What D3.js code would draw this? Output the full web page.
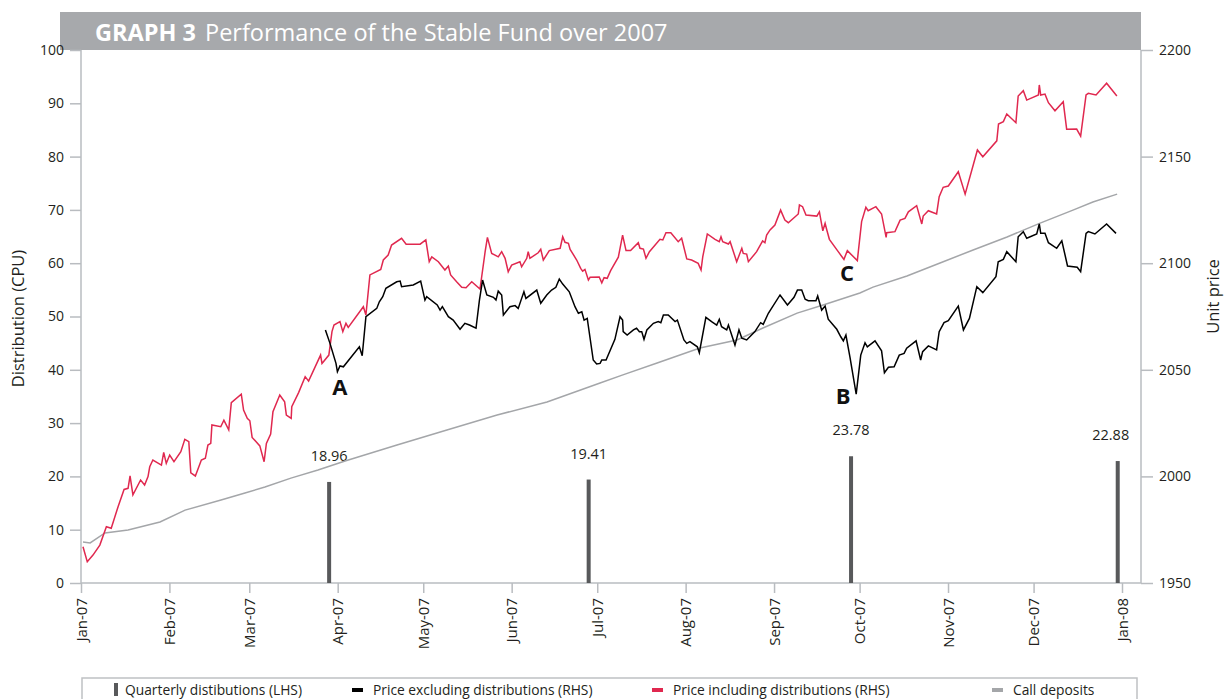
<!DOCTYPE html>
<html>
<head>
<meta charset="utf-8">
<script src="https://cdn.jsdelivr.net/npm/d3@7"></script>
<style>
  body { margin: 0; background: #fff; }
  text { font-family: "Open Sans", "Noto Sans", sans-serif; fill: #231f20; }
</style>
</head>
<body>
<script>
// days are counted from 1 Jan 2007, prices are unit prices (RHS)
var inclDays = [0.7,2.2,4.2,6.6,8.9,10.6,13.0,15.1,16.5,17.2,18.2,20.9,22.3,23.5,24.1,25.2,28.2,29.0,29.9,31.1,32.6,35.0,36.4,37.8,38.5,40.1,42.2,43.6,44.5,45.5,45.9,49.0,50.1,51.8,52.7,56.2,57.0,58.3,59.2,60.0,62.7,64.2,65.0,66.5,67.3,69.7,71.4,72.0,73.7,73.9,76.3,78.6,79.8,84.0,84.5,86.9,88.0,88.7,90.8,91.8,92.9,93.7,99.0,99.9,101.3,105.1,106.0,107.7,108.9,112.4,114.0,118.9,120.9,122.1,123.0,125.3,127.6,128.8,129.6,131.7,133.5,135.0,137.0,139.9,141.7,142.5,144.0,146.3,147.5,148.7,149.8,151.0,153.9,154.5,156.3,156.8,157.4,160.3,161.2,162.1,164.2,168.0,168.9,169.7,170.9,171.5,173.8,175.2,175.9,176.7,177.9,178.5,181.7,182.6,183.4,184.5,185.7,188.4,189.9,191.1,192.7,195.4,196.0,197.2,198.1,199.3,203.0,204.0,205.1,206.8,209.4,210.6,212.4,214.1,216.4,217.4,218.0,219.6,222.3,223.8,224.4,225.0,227.0,227.6,229.9,231.7,232.2,233.4,234.0,236.9,239.0,239.8,240.4,241.6,243.3,245.3,246.8,248.0,251.5,251.9,253.0,254.2,258.0,258.9,260.1,260.9,261.5,262.4,265.5,267.5,268.7,272.2,273.7,275.2,276.0,278.7,280.7,282.3,282.5,285.4,287.2,288.9,290.1,293.0,294.8,295.3,297.1,300.0,300.9,302.3,304.1,307.6,310.0,314.3,316.2,321.1,321.7,323.4,324.6,327.8,328.6,330.4,331.6,335.7,336.0,336.5,338.0,339.2,341.5,344.4,345.6,349.1,350.5,352.4,353.2,355.9,359.6,363.2];
var priceIncl = [1967.0,1960.0,1963.1,1967.8,1976.4,1975.7,1985.8,1993.9,1994.4,2000.2,1991.3,1998.3,1996.0,1999.9,2004.5,2007.7,2005.3,2011.3,2006.1,2010.0,2006.9,2011.6,2017.4,2016.3,2001.7,2000.2,2007.7,2008.5,2014.7,2015.5,2024.1,2023.3,2026.4,2021.8,2034.6,2038.6,2031.1,2027.2,2026.1,2018.3,2014.3,2006.9,2015.5,2019.9,2030.3,2038.2,2035.0,2028.8,2027.2,2032.7,2039.3,2046.8,2044.7,2056.9,2053.0,2056.9,2067.9,2071.0,2072.6,2067.9,2071.8,2069.9,2079.6,2075.7,2094.5,2097.1,2101.5,2103.8,2108.5,2111.7,2108.9,2108.9,2110.9,2100.7,2103.0,2100.7,2096.8,2098.7,2094.5,2091.3,2088.7,2088.5,2091.3,2087.9,2105.4,2112.1,2104.6,2103.0,2105.4,2102.3,2096.0,2099.1,2100.7,2098.3,2102.3,2105.4,2102.3,2104.9,2106.5,2101.5,2105.9,2107.0,2112.4,2109.8,2109.3,2106.5,2101.5,2097.6,2096.3,2097.1,2092.1,2093.4,2093.5,2090.8,2093.2,2092.9,2096.5,2102.8,2113.2,2105.9,2105.9,2109.6,2107.0,2106.6,2102.3,2105.4,2111.2,2110.9,2114.3,2114.3,2110.1,2111.7,2102.0,2101.5,2099.9,2096.8,2103.0,2113.7,2111.2,2110.1,2112.4,2110.1,2109.0,2110.1,2100.7,2107.0,2104.6,2104.3,2100.7,2105.4,2110.5,2109.6,2113.2,2115.6,2117.9,2124.9,2120.2,2119.0,2123.1,2127.3,2126.5,2122.6,2122.1,2124.1,2115.2,2118.7,2115.6,2111.2,2105.4,2101.8,2105.9,2101.2,2119.5,2126.2,2124.6,2126.5,2123.1,2112.1,2114.3,2114.8,2120.2,2121.0,2124.1,2127.0,2118.4,2122.1,2124.6,2123.1,2131.2,2135.6,2136.2,2142.9,2132.4,2153.1,2149.9,2157.4,2165.3,2166.4,2170.0,2165.9,2178.4,2180.9,2176.5,2178.9,2183.6,2178.9,2179.3,2175.3,2171.5,2175.7,2162.8,2162.9,2159.6,2178.9,2179.7,2178.9,2184.4,2178.4];

var exclDays = [85.7,87.3,89.4,89.9,90.8,92.0,97.6,98.6,99.9,103.7,104.6,105.8,106.9,110.7,111.9,112.4,116.5,119.1,120.6,121.2,124.9,125.9,126.7,128.8,130.5,132.9,134.6,136.2,138.5,139.7,140.8,142.3,144.6,145.5,146.3,147.5,148.1,150.4,152.2,153.3,154.5,155.3,156.0,159.8,161.2,163.3,165.0,166.5,167.7,168.9,171.2,173.2,174.4,175.6,176.4,177.5,179.6,180.8,182.0,182.6,184.1,187.2,189.0,189.9,190.1,191.5,193.7,194.8,195.8,196.6,197.4,198.4,200.7,202.4,203.3,204.2,205.9,208.3,209.1,211.4,212.4,213.5,216.1,216.8,219.1,221.1,222.9,223.8,224.6,226.4,227.0,229.3,230.7,231.7,233.4,236.3,238.3,239.2,241.0,245.1,247.7,250.0,251.2,252.7,253.9,255.0,257.7,258.3,259.7,260.9,262.0,265.0,266.4,267.3,268.2,269.6,271.8,273.4,274.9,275.7,278.4,280.7,281.7,283.1,285.1,286.9,288.6,289.5,292.8,294.4,295.1,297.1,300.0,300.9,302.6,304.1,307.6,309.4,311.5,314.1,316.2,320.8,321.6,323.4,324.6,327.8,328.6,330.4,331.6,335.1,336.0,336.5,338.0,339.2,342.1,343.9,345.9,349.3,350.5,352.4,353.2,355.5,359.6,362.9];
var priceExcl = [2068.7,2062.4,2053.0,2049.1,2051.8,2051.4,2060.8,2056.6,2074.9,2078.8,2081.9,2084.3,2088.2,2091.3,2091.6,2089.0,2089.8,2091.6,2082.7,2084.3,2080.4,2078.0,2079.6,2074.9,2073.3,2069.0,2071.8,2071.0,2069.5,2082.7,2092.1,2085.1,2084.0,2082.7,2086.9,2085.1,2075.7,2079.6,2080.1,2078.8,2083.5,2086.6,2083.5,2087.4,2081.2,2085.1,2087.4,2088.7,2092.6,2090.2,2086.6,2079.6,2076.5,2077.2,2073.3,2074.1,2054.6,2052.7,2053.0,2054.6,2054.6,2064.3,2074.9,2073.3,2067.9,2066.3,2068.7,2069.5,2067.9,2067.9,2064.3,2068.7,2071.8,2072.6,2072.1,2075.7,2075.7,2072.6,2073.3,2064.0,2062.4,2063.2,2060.8,2058.0,2074.6,2072.6,2071.0,2073.7,2070.2,2068.7,2071.0,2061.6,2068.7,2064.8,2064.0,2067.9,2072.1,2071.3,2076.5,2085.1,2080.4,2084.0,2087.4,2087.4,2083.1,2082.4,2082.4,2084.6,2078.0,2079.9,2073.7,2069.0,2065.5,2063.6,2066.3,2056.1,2038.6,2056.9,2062.7,2060.8,2063.6,2058.9,2048.6,2051.2,2051.4,2056.9,2057.7,2060.1,2063.6,2054.6,2058.5,2061.2,2059.3,2067.9,2072.1,2073.0,2079.9,2068.7,2074.1,2089.0,2086.2,2093.7,2100.7,2101.8,2105.4,2100.7,2112.4,2114.8,2111.7,2113.7,2118.4,2114.0,2114.0,2109.6,2107.0,2110.5,2098.7,2098.1,2096.0,2114.0,2114.8,2113.7,2118.4,2114.0];

var callDays = [0.7,3.2,8.4,16.5,27.7,36.5,49.1,57.5,64.5,73.6,83.1,92.6,110.8,128.3,145.9,163.4,182.0,190.0,202.0,217.0,230.0,239.1,251.1,260.2,273.1,277.7,289.6,301.2,312.8,324.7,336.3,347.8,354.8,363.3];
var callDeposits = [1969.2,1968.8,1973.5,1974.9,1978.6,1984.2,1988.9,1992.2,1995.0,1999.2,2003.0,2007.2,2014.7,2021.8,2028.8,2034.9,2043.8,2047.6,2053.2,2060.2,2064.0,2069.6,2076.6,2080.4,2086.0,2088.8,2094.0,2100.1,2106.2,2112.3,2118.8,2124.9,2128.7,2132.4];

var distDays = [87, 178, 270, 363.5];
var distributions = [18.96, 19.41, 23.78, 22.88];

var leftTicks = [0, 10, 20, 30, 40, 50, 60, 70, 80, 90, 100];
var rightTicks = [1950, 2000, 2050, 2100, 2150, 2200];
var notes = [["A", 90.8, 2038.4], ["B", 267.2, 2034.0], ["C", 268.6, 2091.6]];
var legendLabels = ["Quarterly distibutions (LHS)", "Price excluding distributions (RHS)", "Price including distributions (RHS)", "Call deposits"];

(function() {
  var W = 1226, H = 699;
  var pL = 81, pR = 1141, pT = 50, pB = 583;
  var axisColor = "#b9bcc0", red = "#e0284f", grey = "#a4a6a9", barColor = "#58595b";

  function toDate(d) { return new Date(Date.UTC(2007, 0, 1) + d * 864e5); }

  var x = d3.scaleUtc().domain([new Date(Date.UTC(2007, 0, 1)), new Date(Date.UTC(2008, 0, 1))]).range([pL, 1122]);
  var yL = d3.scaleLinear().domain([0, 100]).range([pB, pT]);
  var yR = d3.scaleLinear().domain([1950, 2200]).range([pB, pT]);

  var svg = d3.select("body").append("svg").attr("width", W).attr("height", H);

  // title bar
  svg.append("rect").attr("x", 60).attr("y", 12).attr("width", pR - 60).attr("height", pT - 12).attr("fill", "#a7a9ac");
  var title = svg.append("text").attr("x", 95).attr("y", 41).style("font-size", "23.5px");
  title.append("tspan").text("GRAPH 3").style("font-weight", "bold").style("fill", "#fff");
  title.append("tspan").attr("dx", 9).text("Performance of the Stable Fund over 2007").style("fill", "#fff");

  // axes
  function styleAxis(g) {
    g.selectAll(".domain").remove();
    g.selectAll(".tick line").attr("stroke", axisColor).attr("stroke-width", 1.5);
    g.selectAll(".tick text").style("font-size", "14px").style("font-family", "'Open Sans', sans-serif").attr("fill", "#231f20");
  }

  svg.append("g").attr("transform", "translate(" + pL + ",0)")
    .call(d3.axisLeft(yL).tickValues(leftTicks).tickSize(11).tickPadding(6))
    .call(styleAxis);

  svg.append("g").attr("transform", "translate(" + pR + ",0)")
    .call(d3.axisRight(yR).tickValues(rightTicks).tickFormat(d3.format("d")).tickSize(12).tickPadding(6))
    .call(styleAxis);

  var xg = svg.append("g").attr("transform", "translate(0," + pB + ")")
    .call(d3.axisBottom(x).ticks(d3.utcMonth.every(1)).tickFormat(d3.utcFormat("%b-%y")).tickSize(10))
    .call(styleAxis);
  xg.selectAll(".tick text")
    .attr("transform", "rotate(-90)")
    .attr("x", -15).attr("y", 0).attr("dy", "0.35em")
    .style("text-anchor", "end").style("font-size", "15px");

  svg.append("line").attr("x1", pL).attr("x2", pL).attr("y1", pT).attr("y2", pB).attr("stroke", axisColor).attr("stroke-width", 1.5);
  svg.append("line").attr("x1", pR).attr("x2", pR).attr("y1", pT).attr("y2", pB).attr("stroke", axisColor).attr("stroke-width", 1.5);
  svg.append("line").attr("x1", pL).attr("x2", pR).attr("y1", pB).attr("y2", pB).attr("stroke", axisColor).attr("stroke-width", 1.5);

  svg.append("text").attr("transform", "translate(24," + ((pT + pB) / 2 + 2) + ") rotate(-90)")
    .attr("text-anchor", "middle").style("font-size", "16.5px").text("Distribution (CPU)");
  svg.append("text").attr("transform", "translate(1219," + ((pT + pB) / 2 - 20) + ") rotate(-90)")
    .attr("text-anchor", "middle").style("font-size", "16.5px").text("Unit price");

  // quarterly distributions
  svg.selectAll("rect.dist").data(distributions).enter().append("rect")
    .attr("class", "dist")
    .attr("x", function(d, i) { return x(toDate(distDays[i])) - 2; })
    .attr("y", function(d) { return yL(d); })
    .attr("width", 4)
    .attr("height", function(d) { return pB - yL(d); })
    .attr("fill", barColor);

  svg.selectAll("text.dist").data(distributions).enter().append("text")
    .attr("class", "dist")
    .attr("x", function(d, i) { return x(toDate(distDays[i])) + (i == 3 ? -7 : 0); })
    .attr("y", function(d) { return yL(d) - 21; })
    .attr("text-anchor", "middle").style("font-size", "14.5px")
    .text(function(d) { return d.toFixed(2); });

  // lines
  function series(days, vals) {
    return days.map(function(d, i) { return [toDate(d), vals[i]]; });
  }
  var line = d3.line().x(function(d) { return x(d[0]); }).y(function(d) { return yR(d[1]); });

  svg.append("path").datum(series(callDays, callDeposits)).attr("d", line)
    .attr("fill", "none").attr("stroke", grey).attr("stroke-width", 1.5);
  svg.append("path").datum(series(inclDays, priceIncl)).attr("d", line)
    .attr("fill", "none").attr("stroke", red).attr("stroke-width", 1.5);
  svg.append("path").datum(series(exclDays, priceExcl)).attr("d", line)
    .attr("fill", "none").attr("stroke", "#000").attr("stroke-width", 1.5);

  // A B C notes
  svg.selectAll("text.note").data(notes).enter().append("text")
    .attr("class", "note")
    .attr("x", function(d) { return x(toDate(d[1])); })
    .attr("y", function(d) { return yR(d[2]); })
    .attr("text-anchor", "middle")
    .style("font-size", "22px").style("font-weight", "bold").style("fill", "#111")
    .text(function(d) { return d[0]; });

  // legend
  svg.append("rect").attr("x", 82).attr("y", 678).attr("width", 1055).attr("height", 40)
    .attr("fill", "none").attr("stroke", "#bfc1c3").attr("stroke-width", 1.5);
  var legX = [114, 352, 652, 992];
  var legColors = [barColor, "#000", red, grey];
  legendLabels.forEach(function(t, i) {
    if (i == 0) {
      svg.append("rect").attr("x", legX[i]).attr("y", 683).attr("width", 4).attr("height", 13).attr("fill", legColors[i]);
    } else {
      svg.append("rect").attr("x", legX[i]).attr("y", 688).attr("width", 11).attr("height", 4).attr("fill", legColors[i]);
    }
    svg.append("text").attr("x", legX[i] + (i == 0 ? 11 : 21)).attr("y", 695)
      .style("font-size", "13.8px").text(t);
  });
})();
</script>
</body>
</html>
